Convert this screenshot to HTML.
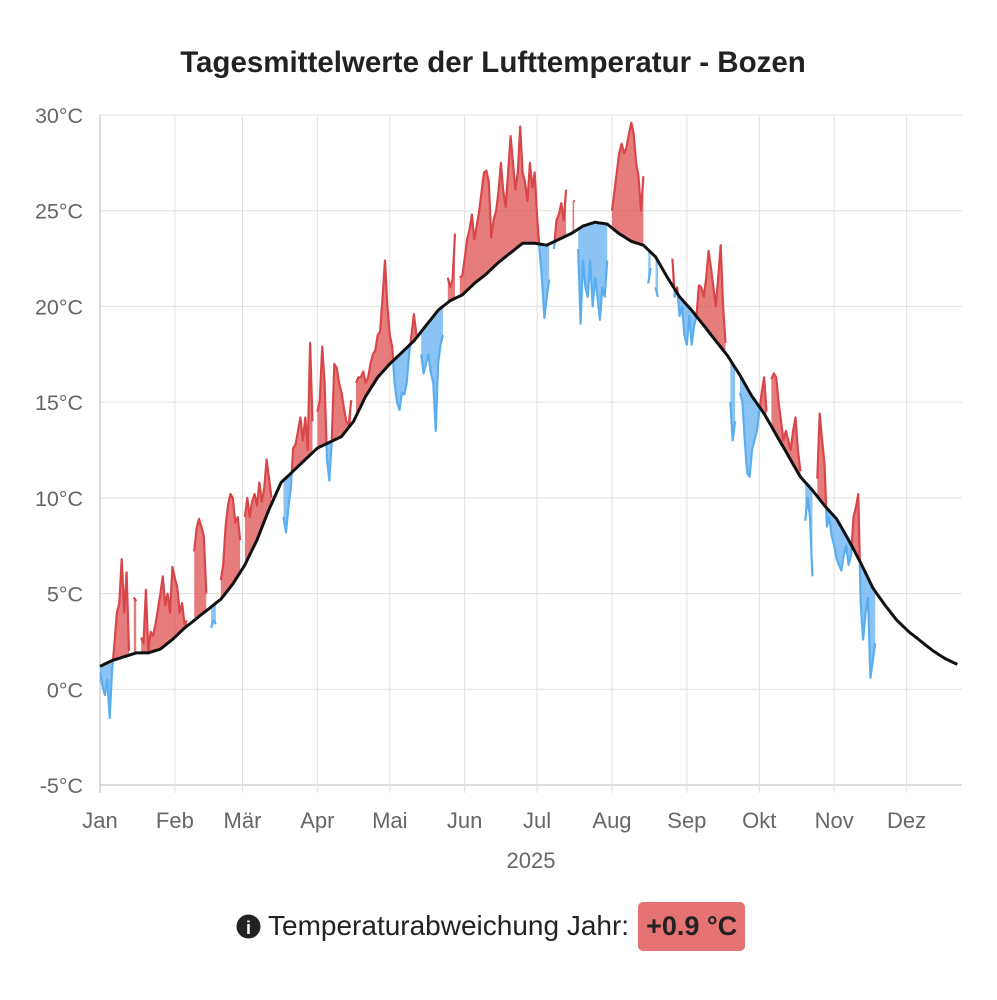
<!DOCTYPE html>
<html><head><meta charset="utf-8">
<style>
body{margin:0;background:#fff;width:997px;height:1000px;overflow:hidden;font-family:"Liberation Sans",sans-serif}
svg text{font-family:"Liberation Sans",sans-serif}
</style></head>
<body>
<svg id="chart" width="997" height="1000" style="position:absolute;left:0;top:0">
<text x="493" y="72" text-anchor="middle" font-size="29.5" font-weight="bold" fill="#222">Tagesmittelwerte der Lufttemperatur - Bozen</text>
<g id="grid"></g>
<defs>
<clipPath id="clipAbove"><path id="cpA"/></clipPath>
<clipPath id="clipBelow"><path id="cpB"/></clipPath>
</defs>
<g id="marks"></g>
<g id="axes"></g>
<text x="531" y="868" text-anchor="middle" font-size="22" fill="#666">2025</text>
</svg>
<div style="position:absolute;left:236px;top:901px;height:50px;display:flex;align-items:center;font-size:28px;color:#222">
<svg width="25" height="25" style="margin-right:7px"><circle cx="12.5" cy="12.5" r="12" fill="#222"/><text x="12.5" y="20" text-anchor="middle" font-size="18" font-weight="bold" fill="#fff" font-family="Liberation Serif,serif">i</text></svg>
<span>Temperaturabweichung Jahr:</span>
<span style="margin-left:9px;background:#e57373;border-radius:5px;padding:0 8px;height:49px;line-height:49px;font-weight:bold;font-size:27px;color:#222">+0.9 °C</span>
</div>
<script>
const monthLabels=["Jan","Feb","Mär","Apr","Mai","Jun","Jul","Aug","Sep","Okt","Nov","Dez"];
const monthStartDays=[0,31,59,90,120,151,181,212,243,273,304,334];
const yTicks=[-5,0,5,10,15,20,25,30];
const normalStep=5;
const normalValues=[1.2,1.5,1.7,1.9,1.9,2.1,2.6,3.2,3.7,4.2,4.7,5.5,6.5,7.8,9.4,10.8,11.4,12.0,12.6,12.9,13.2,14.0,15.3,16.3,17.0,17.6,18.2,19.0,19.8,20.3,20.6,21.2,21.7,22.3,22.8,23.3,23.3,23.2,23.5,23.8,24.2,24.4,24.3,23.8,23.4,23.2,22.6,21.5,20.5,19.8,19.0,18.2,17.4,16.4,15.3,14.4,13.3,12.2,11.1,10.4,9.6,8.9,7.8,6.6,5.3,4.4,3.6,3.0,2.5,2.0,1.6,1.3];
const dailyTemps=[0.9,0.2,-0.3,0.5,-1.5,1.0,2.4,4.0,4.5,6.8,4.0,6.1,2.0,null,4.8,4.6,null,2.7,2.4,5.2,2.0,3.0,2.8,3.4,4.2,5.0,5.9,4.4,5.0,4.0,
6.4,5.8,5.3,4.0,4.5,3.4,3.6,null,null,7.2,8.4,8.9,8.5,8.0,5.0,null,3.2,3.6,3.4,null,5.7,6.5,8.5,9.6,10.2,10.0,8.7,9.0,7.8,null,
9.0,10.0,9.0,9.8,10.2,9.6,10.8,9.8,10.5,12.0,11.0,10.0,null,null,null,null,9.0,8.2,9.5,10.5,12.6,12.8,13.5,14.2,13.0,14.2,12.5,18.1,14.0,null,
14.5,15.1,17.9,16.0,12.0,10.9,13.0,17.0,16.8,16.0,15.5,14.7,14.0,13.8,15.1,null,16.0,16.3,16.3,16.6,16.0,16.3,17.0,17.5,17.7,18.5,18.7,20.5,22.4,20.0,
18.5,17.9,16.0,15.0,14.6,15.5,15.4,16.0,17.5,18.5,19.6,18.5,null,17.5,16.5,17.0,17.5,16.5,16.0,13.5,17.0,18.0,18.5,null,21.5,21.0,21.4,23.8,null,21.5,
21.6,22.5,23.5,24.0,24.8,23.5,24.2,25.0,26.0,27.0,27.1,26.5,23.6,24.5,25.0,26.0,27.5,26.0,25.2,27.0,28.9,27.5,26.1,27.0,29.4,27.0,26.5,25.5,27.5,26.2,
27.0,24.7,23.0,21.5,19.4,20.5,21.4,null,23.0,24.5,24.8,25.4,24.5,26.1,null,null,25.5,null,23.0,19.1,22.4,21.0,20.5,22.4,20.0,21.5,20.5,19.3,21.0,20.5,
22.4,null,25.0,26.0,27.0,28.0,28.5,28.0,28.3,29.0,29.6,29.0,27.5,26.8,25.0,26.8,null,21.2,22.0,null,21.0,20.5,null,null,null,null,null,22.5,20.5,21.0,
19.5,20.0,18.5,18.0,19.5,18.0,19.0,19.5,21.1,21.0,20.5,21.5,22.9,22.0,21.0,20.0,21.5,23.2,20.0,18.1,null,15.0,13.0,14.0,null,15.5,15.0,13.0,11.3,11.1,
12.5,13.0,13.5,14.5,15.5,16.3,14.5,null,16.2,16.5,16.3,15.0,14.0,13.0,13.5,13.0,12.5,13.5,14.2,12.5,11.4,null,8.8,10.0,9.0,5.9,null,11.0,14.4,13.0,
11.8,8.5,9.0,8.0,7.5,6.8,6.5,6.2,7.0,7.5,6.5,7.0,9.0,9.5,10.2,4.5,2.6,4.0,4.8,0.6,1.5,2.4];

const NS='http://www.w3.org/2000/svg';
const X0=100,X1=962,PX_DAY=2.415,YT=115,YB=785,TMIN=-5,TMAX=30;
const xs=d=>X0+d*PX_DAY;
const ys=t=>YB-(t-TMIN)*(YB-YT)/(TMAX-TMIN);
const lastDay=(normalValues.length-1)*normalStep;
function normAt(d){const i=Math.min(Math.floor(d/normalStep),normalValues.length-2);const f=(d-i*normalStep)/normalStep;return normalValues[i]*(1-f)+normalValues[i+1]*f;}
function mk(tag,attrs,parent){const e=document.createElementNS(NS,tag);for(const k in attrs)e.setAttribute(k,attrs[k]);parent.appendChild(e);return e;}
const grid=document.getElementById('grid'),axes=document.getElementById('axes'),marks=document.getElementById('marks');

yTicks.forEach(t=>{
 const l=mk('line',{x1:X0,x2:X1,y1:ys(t),y2:ys(t),stroke:t===TMIN?'#bbb':'#e0e0e0','stroke-width':1},grid);
 
 
 const tx=mk('text',{x:83,y:ys(t)+8,'text-anchor':'end','font-size':21.5,fill:'#666'},axes);
 tx.textContent=t+'°C';
 
 
});
monthStartDays.forEach((d,i)=>{
 const l=mk('line',{x1:xs(d),x2:xs(d),y1:YT,y2:YB+8,stroke:i===0?'#bbb':'#e0e0e0','stroke-width':1},grid);
 
 
 const tx=mk('text',{x:xs(d),y:828,'text-anchor':'middle','font-size':22,fill:'#666'},axes);
 tx.textContent=monthLabels[i];
 
 
});

let normPts=[];for(let d=0;d<=lastDay;d++)normPts.push([xs(d),ys(normAt(d))]);
const normStr=normPts.map(p=>p[0].toFixed(1)+','+p[1].toFixed(1)).join(' L');
document.getElementById('cpA').setAttribute('d','M'+X0+',0 L'+normStr+' L'+X1+',0 Z');
document.getElementById('cpB').setAttribute('d','M'+X0+',1000 L'+normStr+' L'+X1+',1000 Z');

let runs=[],cur=[];
dailyTemps.forEach((v,d)=>{if(v===null){if(cur.length)runs.push(cur);cur=[];}else cur.push(d);});
if(cur.length)runs.push(cur);
[['clipAbove','rgba(222,80,80,0.75)','#d9464a','above'],['clipBelow','rgba(100,175,240,0.75)','#5aaef0','below']].forEach(([clip,fill,stroke,nm])=>{
 const g=mk('g',{'clip-path':'url(#'+clip+')'},marks);
 
 
 runs.forEach(r=>{
  let p='M';
  if(r.length===1){const d=r[0];p+=(xs(d)-0.8)+','+ys(dailyTemps[d])+' L'+(xs(d)+0.8)+','+ys(dailyTemps[d])+' L'+(xs(d)+0.8)+','+ys(normAt(d))+' L'+(xs(d)-0.8)+','+ys(normAt(d))+'Z';}
  else{p+=r.map(d=>xs(d).toFixed(1)+','+ys(dailyTemps[d]).toFixed(1)).join(' L');
  p+=' L'+r.slice().reverse().map(d=>xs(d).toFixed(1)+','+ys(normAt(d)).toFixed(1)).join(' L')+'Z';}
  const a=mk('path',{d:p,fill:fill,stroke:'none'},g);
  
  
  const ln=mk('path',{d:'M'+r.map(d=>xs(d).toFixed(1)+','+ys(dailyTemps[d]).toFixed(1)).join(' L')+(r.length===1?' l1.5,0':''),fill:'none',stroke:stroke,'stroke-width':2.2,'stroke-linejoin':'round'},g);
  
  
 });
});
const nl=mk('path',{d:'M'+normStr,fill:'none',stroke:'#111','stroke-width':3,'stroke-linejoin':'round'},marks);


</script>
</body></html>
